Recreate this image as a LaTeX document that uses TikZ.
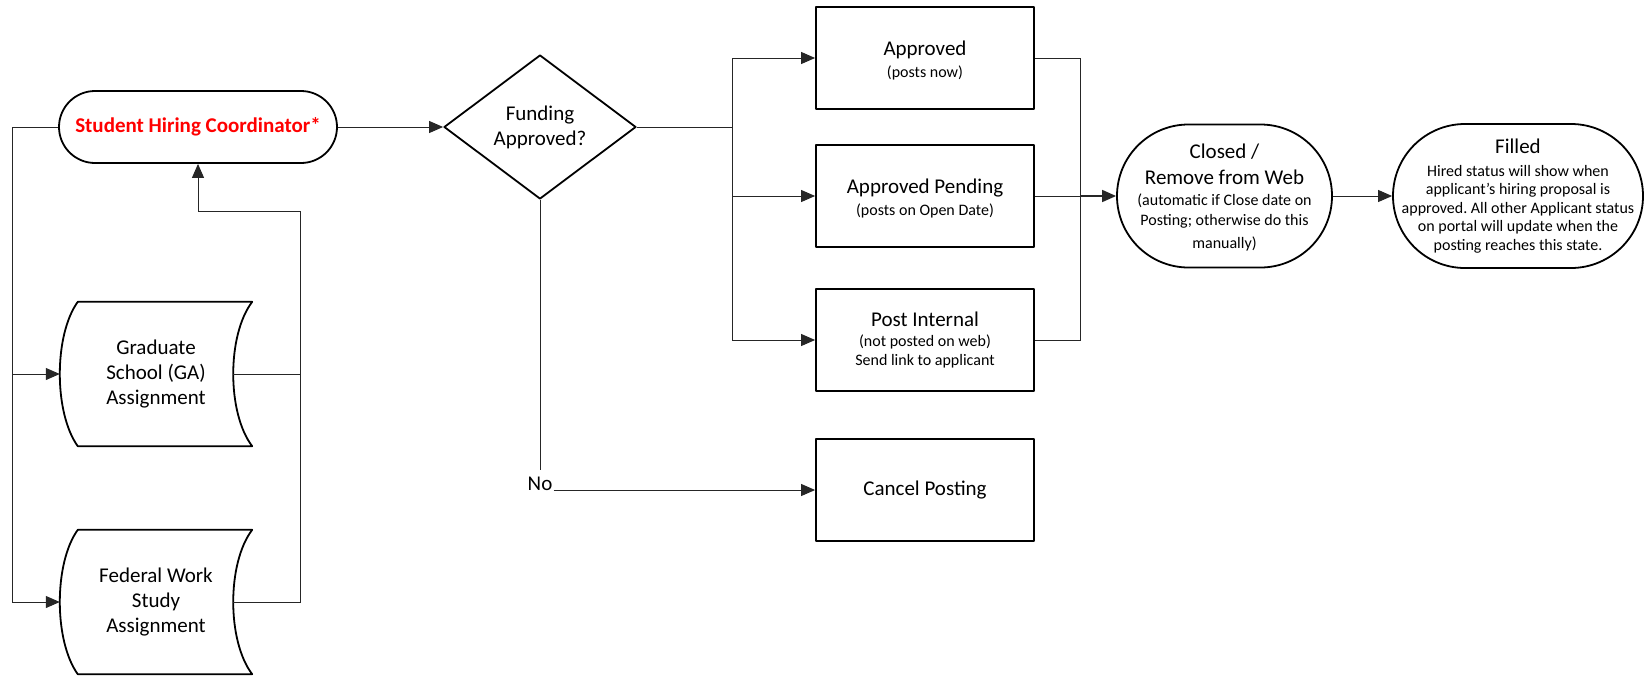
\documentclass[tikz,border=0pt]{standalone}
\usepackage{fontspec}
\setmainfont{Carlito}
\usetikzlibrary{arrows.meta,shapes.geometric,calc}
\definecolor{hired}{RGB}{255,0,0}
\newcommand{\sm}{\fontsize{16}{19}\selectfont}
\frenchspacing
\tikzset{
  conn/.style={draw=black!85, line width=1pt},
  arr/.style={conn, -{Triangle[length=14pt,width=12pt]}},
  outline/.style={draw=black, line width=1.8pt, line join=round},
  big/.style={font=\fontsize{21}{25}\selectfont},
  stepbox/.style={outline, rectangle, minimum width=218pt, minimum height=102pt, align=center, big, inner sep=0pt},
  term/.style={outline, rectangle, align=center, big, inner sep=0pt},
  tape/.style={rectangle, minimum width=192pt, minimum height=144pt, align=center, big, inner sep=0pt},
}
\begin{document}
\begin{tikzpicture}[x=1pt,y=-1pt]
\useasboundingbox (0,0) rectangle (1644,675);

% nodes
\node[term, rounded corners=36pt, minimum width=278pt, minimum height=72pt, text=hired,
      font=\fontsize{21}{25}\selectfont\bfseries] (shc) at (198,127) {Student Hiring Coordinator*};
\node[tape] (ga) at (156,374) {Graduate\\School (GA)\\Assignment};
\node[tape] (fws) at (156,602) {Federal Work\\Study\\Assignment};
\foreach \n in {ga,fws}{
  \draw[outline] ($(\n.north west)+(18,0)$) -- (\n.north east)
    .. controls ($(\n.east)+(-25.3,-39)$) and ($(\n.east)+(-25.3,39)$) .. (\n.south east)
    -- ($(\n.south west)+(18,0)$)
    .. controls ($(\n.west)+(-6,39)$) and ($(\n.west)+(-6,-39)$) .. cycle;
}
\node[outline, diamond, minimum width=192pt, minimum height=144pt, inner sep=0pt,
      align=center, big] (dia) at (540,127) {Funding\\Approved?};

\node[stepbox] (app) at (925,58) {\rule{0pt}{20pt}Approved\\[-3pt]{\sm (posts now)}};
\node[stepbox] (ap) at (925,196) {\rule{0pt}{19pt}Approved Pending\\[-3pt]{\sm (posts on Open Date)}};
\node[stepbox] (pi) at (925,340) {Post Internal\\[-4.5pt]{\sm (not posted on web)}\\[-6.4pt]{\sm Send link to applicant}};
\node[stepbox] (cancel) at (925,490) {Cancel Posting};

\node[big, anchor=base, inner xsep=1pt, inner ysep=6pt] (no) at (540,490) {No};

\node[term, rounded corners=71.5pt, minimum width=215pt, minimum height=143pt] (closed) at (1224.5,196)
  {\rule{0pt}{18pt}Closed /\\[1pt]Remove from Web\\[-3.5pt]{\sm (automatic if Close date on}\\[-5pt]{\sm Posting; otherwise do this}\\[-2pt]{\sm manually)}};
\node[term, rounded corners=72pt, minimum width=250pt, minimum height=144pt] (filled) at (1518,196)
  {Filled\\[-2.5pt]{\sm Hired status will show when}\\[-6.5pt]{\sm applicant’s hiring proposal is}\\[-6.5pt]{\sm approved. All other Applicant status}\\[-6.5pt]{\sm on portal will update when the}\\[-6.5pt]{\sm posting reaches this state.}};

% helper coordinates
\coordinate (L) at (12,127);
\coordinate (R) at (300,211);
\coordinate (gaR) at ($(ga.east)+(-19,0)$);
\coordinate (fwsR) at ($(fws.east)+(-19,0)$);
\coordinate (J) at (732,127);
\coordinate (K) at (1080,196);

% connectors left
\draw[arr] (shc.west) -- (L) |- (fws.west);
\draw[arr] (L |- ga.west) -- (ga.west);
\draw[conn] (gaR) -- (R |- gaR);
\draw[arr] (fwsR) -| (R) -| (shc.south);

% to decision
\draw[arr] (shc.east) -- (dia.west);
\draw[arr] (dia.east) -- (J) |- (pi.west);
\draw[arr] (J) |- (app.west);
\draw[arr] (J |- ap.west) -- (ap.west);
\draw[conn] (dia.south) -- (no.north);
\draw[arr] (no.base east) -- (cancel.west);

% to closed
\draw[conn] (app.east) -| (K);
\draw[conn] (pi.east) -| (K);
\draw[conn] (ap.east) -- (K);
\draw[arr, line width=1.6pt] (K) -- (closed.west);
\draw[arr] (closed.east) -- (filled.west);
\end{tikzpicture}
\end{document}
